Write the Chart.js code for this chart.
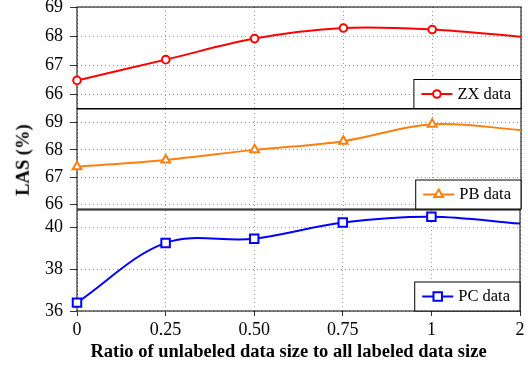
<!DOCTYPE html>
<html><head><meta charset="utf-8">
<script src="https://cdn.jsdelivr.net/npm/chart.js@4.4.0/dist/chart.umd.min.js"></script>
<style>
html,body{margin:0;padding:0;background:#fff;}
#wrap{position:relative;width:528px;height:369px;overflow:hidden;background:#fff;}
canvas{position:absolute;left:0;top:0;}
.t{position:absolute;font-family:"Liberation Serif","Times New Roman",serif;font-weight:bold;color:#000;white-space:nowrap;}
#xt{left:288.5px;top:341.5px;font-size:18.5px;line-height:18.5px;transform:translateX(-50%);}
#yt{left:23px;top:160px;font-size:18.5px;line-height:18.5px;transform:translate(-50%,-50%) rotate(-90deg);}
</style></head><body>
<div id="wrap">
<canvas id="c1" width="528" height="369"></canvas>
<canvas id="c2" width="528" height="369"></canvas>
<canvas id="c3" width="528" height="369"></canvas>
<div class="t" id="xt">Ratio of unlabeled data size to all labeled data size</div>
<div class="t" id="yt">LAS (%)</div>
</div>
<script>
// ---- data ----
const categories = ['0', '0.25', '0.50', '0.75', '1', '2'];
const zxValues = [66.49, 67.20, 67.92, 68.28, 68.23, 67.98];
const pbValues = [67.38, 67.63, 68.00, 68.32, 68.94, 68.73];
const pcValues = [36.40, 39.25, 39.45, 40.22, 40.50, 40.17];
const zxTicks = [66, 67, 68, 69];
const pbTicks = [66, 67, 68, 69];
const pcTicks = [36, 38, 40];
const zxRange = [65.53, 69.0];
const pbRange = [65.83, 69.50];
const pcRange = [36.0, 40.82];
const seriesNames = ['ZX data', 'PB data', 'PC data'];

const SERIF = '"Liberation Serif","Times New Roman",serif';

function drawMarker(ctx, style, x, y, r, color, bw) {
  ctx.save();
  ctx.beginPath();
  if (style === 'circle') {
    ctx.arc(x, y, r, 0, Math.PI * 2);
  } else if (style === 'triangle') {
    let a = 0;
    ctx.moveTo(x + Math.sin(a) * r, y - Math.cos(a) * r);
    a += 2 * Math.PI / 3;
    ctx.lineTo(x + Math.sin(a) * r, y - Math.cos(a) * r);
    a += 2 * Math.PI / 3;
    ctx.lineTo(x + Math.sin(a) * r, y - Math.cos(a) * r);
    ctx.closePath();
  } else {
    const h = r * Math.SQRT1_2;
    ctx.rect(x - h, y - h, 2 * h, 2 * h);
  }
  ctx.fillStyle = '#fff';
  ctx.fill();
  ctx.lineWidth = bw;
  ctx.strokeStyle = color;
  ctx.stroke();
  ctx.restore();
}

const framePlugin = {
  id: 'frame',
  beforeDatasetsDraw(chart) {
    const a = chart.chartArea, ctx = chart.ctx;
    ctx.save();
    ctx.strokeStyle = '#000';
    ctx.lineWidth = 1;
    ctx.strokeRect(a.left, a.top, a.right - a.left, a.bottom - a.top);
    ctx.restore();
  }
};

const boxLegendPlugin = {
  id: 'boxLegend',
  afterDraw(chart) {
    const ds = chart.data.datasets[0];
    const a = chart.chartArea, ctx = chart.ctx;
    ctx.save();
    ctx.font = '16.5px ' + SERIF;
    const tw = ctx.measureText(ds.label).width;
    const h = 29;
    const w = 7.5 + 31 + 5 + tw + 10;
    const x0 = a.right - w, y0 = a.bottom - h;
    ctx.fillStyle = '#fff';
    ctx.fillRect(x0, y0, w, h);
    ctx.strokeStyle = '#000';
    ctx.lineWidth = 1;
    ctx.strokeRect(x0, y0, w, h);
    const cy = y0 + h / 2;
    ctx.beginPath();
    ctx.moveTo(x0 + 7.5, cy);
    ctx.lineTo(x0 + 38.5, cy);
    ctx.strokeStyle = ds.borderColor;
    ctx.lineWidth = ds.borderWidth;
    ctx.stroke();
    drawMarker(ctx, ds.pointStyle, x0 + 23, cy, ds.markerR, ds.borderColor, ds.pointBorderWidth);
    ctx.fillStyle = '#000';
    ctx.textBaseline = 'middle';
    ctx.textAlign = 'left';
    ctx.fillText(ds.label, x0 + 43.5, cy + 0.5);
    ctx.restore();
  }
};

function makeChart(id, label, values, color, style, r, range, ticks, top, bottom, isBottom) {
  const last = values.length - 1;
  return new Chart(document.getElementById(id), {
    type: 'line',
    data: {
      labels: categories,
      datasets: [{
        label: label,
        data: values,
        borderColor: color,
        borderWidth: 2,
        tension: 0.35,
        pointStyle: style,
        markerR: r,
        pointRadius: (c) => c.dataIndex === last ? 0 : r,
        pointHoverRadius: 0,
        pointBorderWidth: 2,
        pointBackgroundColor: '#fff',
        pointBorderColor: color,
        fill: false,
        clip: false
      }]
    },
    options: {
      responsive: false,
      animation: false,
      devicePixelRatio: 1,
      events: [],
      layout: { padding: { left: 0, right: 7, top: top, bottom: 0 } },
      plugins: { legend: { display: false }, tooltip: { enabled: false }, title: { display: false } },
      scales: {
        x: {
          type: 'category',
          offset: false,
          grid: {
            display: true, color: '#9a9a9a', lineWidth: 1,
            drawTicks: isBottom, tickLength: 5, tickColor: '#333', tickWidth: 1, tickBorderDash: []
          },
          border: { display: false, dash: [1, 3] },
          ticks: {
            display: isBottom, color: '#000', font: { family: SERIF, size: 18 },
            padding: 3, maxRotation: 0, autoSkip: false
          },
          afterFit(s) { s.height = 369 - bottom; s.paddingLeft = 0; s.paddingRight = 0; }
        },
        y: {
          min: range[0], max: range[1],
          afterBuildTicks(s) { s.ticks = ticks.map(v => ({ value: v })); },
          grid: {
            display: true, color: '#9a9a9a', lineWidth: 1,
            drawTicks: true, tickLength: 7, tickColor: '#333', tickWidth: 1, tickBorderDash: []
          },
          border: { display: false, dash: [1, 3] },
          ticks: { color: '#000', font: { family: SERIF, size: 18 }, padding: 7 },
          afterFit(s) { s.width = 77; s.paddingTop = 0; s.paddingBottom = 0; }
        }
      }
    },
    plugins: [framePlugin, boxLegendPlugin]
  });
}

makeChart('c1', seriesNames[0], zxValues, '#ff0000', 'circle', 3.8, zxRange, zxTicks, 7, 108.5, false);
makeChart('c2', seriesNames[1], pbValues, '#ff7f0e', 'triangle', 5, pbRange, pbTicks, 109, 209, false);
makeChart('c3', seriesNames[2], pcValues, '#0000ff', 'rect', 6, pcRange, pcTicks, 210, 311, true);
</script>
</body></html>
